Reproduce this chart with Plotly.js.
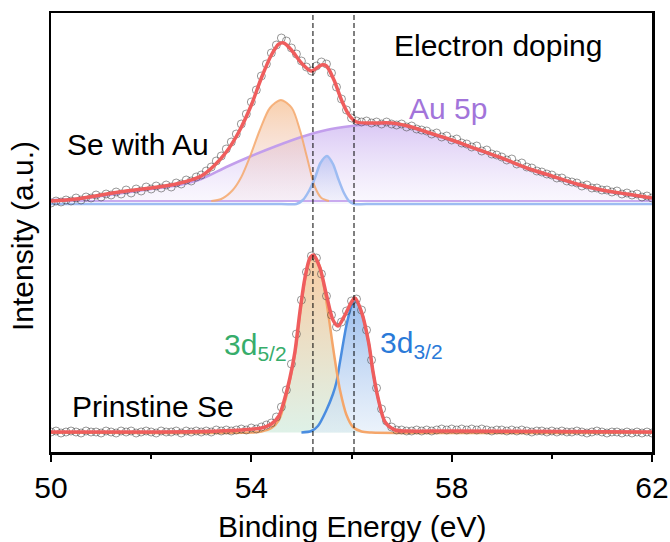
<!DOCTYPE html>
<html><head><meta charset="utf-8">
<script src="https://cdn.plot.ly/plotly-3.0.1.min.js"></script>
<style>html,body{margin:0;padding:0;background:#fff}#chart{width:670px;height:542px}</style>
</head><body><div id="chart"></div>
<script>
// ---------- DATA (binding energy in eV, intensity in arbitrary units) ----------
const energyRaw = [50.0,50.1,50.2,50.3,50.4,50.5,50.6,50.7,50.8,50.9,51.0,51.1,51.2,51.3,51.4,51.5,51.6,51.7,51.8,51.9,
52.0,52.1,52.2,52.3,52.4,52.5,52.6,52.7,52.8,52.9,53.0,53.1,53.2,53.3,53.4,53.5,53.6,53.7,53.8,53.9,
54.0,54.1,54.2,54.3,54.4,54.5,54.6,54.7,54.8,54.9,55.0,55.1,55.2,55.3,55.4,55.5,55.6,55.7,55.8,55.9,
56.0,56.1,56.2,56.3,56.4,56.5,56.6,56.7,56.8,56.9,57.0,57.1,57.2,57.3,57.4,57.5,57.6,57.7,57.8,57.9,
58.0,58.1,58.2,58.3,58.4,58.5,58.6,58.7,58.8,58.9,59.0,59.1,59.2,59.3,59.4,59.5,59.6,59.7,59.8,59.9,
60.0,60.1,60.2,60.3,60.4,60.5,60.6,60.7,60.8,60.9,61.0,61.1,61.2,61.3,61.4,61.5,61.6,61.7,61.8,61.9,62.0];

// Se with Au (raw points)
const auRaw = [249,251,250,252,251,254,252,255,254,257,255,258,257,260,258,262,259,263,261,265,
263,266,264,267,265,269,268,272,271,275,277,281,285,291,296,303,310,318,328,338,
350,362,376,388,399,407,414,411,404,398,391,385,381,386,390,388,379,365,353,342,
334,331,330,331,329,330,328,330,328,327,328,325,326,323,322,321,318,319,315,316,
312,313,309,308,305,306,301,302,298,297,295,292,293,288,289,285,284,281,280,278,
277,274,274,271,270,269,266,267,264,264,262,262,260,261,258,259,257,258,255,256,254];

// Pristine Se (raw points)
const seRaw = [20,21,19,20,21,20,19,21,20,20,19,21,20,19,21,20,21,19,20,21,
20,19,21,20,20,21,19,21,20,21,20,21,20,22,21,22,21,22,23,22,
24,23,25,27,29,35,45,62,88,118,152,180,196,194,178,156,137,125,130,141,
151,153,142,122,92,64,43,31,25,22,22,21,21,22,21,22,21,22,23,22,
23,22,23,22,23,22,23,22,21,22,22,21,22,21,22,21,20,21,21,20,
21,20,21,20,20,21,20,19,20,21,20,19,20,20,19,20,19,20,19,20,19];

// Se with Au: fitted envelope
const auFitE = [50,50.5,51,51.5,52,52.5,53,53.25,53.5,53.75,54,54.2,54.4,54.55,54.65,54.8,55,55.2,55.4,55.5,55.65,55.8,55.95,56.1,56.4,56.8,57.2,57.5,58,58.5,59,59.5,60,60.5,61,61.5,62];
const auFit  = [251,253,257,261,264,268,276,286,300,320,347,374,397,408,409,402,389,381,387,386,372,352,337,330,329,329,325,320,312,303,294,284,276,268,262,258,254];

// Au 5p component
const au5pE = [50,50.5,51,51.5,52,52.5,53,53.5,54,54.5,55,55.5,56,56.4,56.8,57.2,57.5,58,58.5,59,59.5,60,60.5,61,61.5,62];
const au5p  = [252,253,256,259.5,263,266.5,273,285,296,306,315,322,326,328,328,324.5,319.5,311.5,302.5,293.5,283.5,275.5,267.5,261.5,257.5,253.5];
const au5pBase = 251;

// Se 3d5/2 component (with Au)
const auD52E = [53.2,53.4,53.63,53.8,53.97,54.17,54.37,54.59,54.81,54.97,55.11,55.27,55.4,55.55];
const auD52  = [251,253,262,275,295,322,344,352,344,322,295,265,254,251];
const auD52Base = 251;

// Se 3d3/2 component (with Au)
const auD32E = [50,54.6,54.9,55.03,55.15,55.27,55.38,55.51,55.63,55.73,55.85,55.95,56.05,56.3,62];
const auD32  = [248,248,248,252,261,274,289,296,288,274,259,251,248,248,248];
const auD32Base = 248;

// Pristine Se: fitted envelope
const seFitE = [50,53,53.8,54.2,54.4,54.55,54.67,54.77,54.87,54.97,55.07,55.17,55.24,55.37,55.5,55.63,55.73,55.87,56.0,56.07,56.2,56.34,56.43,56.53,56.67,56.87,57.1,58,62];
const seFit  = [20,20.5,22,24,28,36,54,74,100,140,174,194,197,184,157,132,126,137,150,154,140,110,80,54,30,22,21,21,20];

// Pristine Se 3d5/2 component
const seD52E = [50,54.0,54.2,54.4,54.55,54.67,54.77,54.87,54.97,55.07,55.17,55.24,55.37,55.5,55.63,55.7,55.77,55.9,56.03,56.2,56.4,62];
const seD52  = [19.5,19.5,20.5,24,32,50,72,98,138,172,193,197,185,150,105,82,62,37,25,20.5,19.5,19.5];
const seD52Base = 19.5;

// Pristine Se 3d3/2 component
const seD32E = [55.0,55.2,55.33,55.5,55.63,55.7,55.77,55.9,56.0,56.07,56.2,56.34,56.43,56.53,56.67,56.87,57.1,57.4];
const seD32  = [19.5,21,26,42,58,70,90,127,146,153,140,110,80,54,30,22,20,19.5];
const seD32Base = 19.5;

const peakLines = [55.23, 56.05];
const xTicks = [50, 54, 58, 62];
const xMinorTicks = [52, 56, 60];

// ---------- helpers ----------
function base(xs, v){ return {x: xs, y: xs.map(()=>v), mode:'lines', line:{width:0}, hoverinfo:'skip', showlegend:false}; }
function fillTr(xs, ys, top, bottom){
  return {x: xs, y: ys, mode:'lines', line:{width:0, shape:'spline', smoothing:0.8}, fill:'tonexty',
    fillgradient:{type:'vertical', colorscale:[[0,bottom],[1,top]]}, hoverinfo:'skip', showlegend:false};
}
function lineTr(xs, ys, color, w){ return {x: xs, y: ys, mode:'lines', line:{color:color, width:w, shape:'spline', smoothing:0.8}, hoverinfo:'skip', showlegend:false}; }

const traces = [
  // top: fills
  base(au5pE, au5pBase),
  fillTr(au5pE, au5p, 'rgba(206,182,241,0.75)', 'rgba(244,239,252,0.5)'),
  base(auD52E, auD52Base),
  fillTr(auD52E, auD52, 'rgba(247,192,145,0.75)', 'rgba(236,214,226,0.25)'),
  base(auD32E, auD32Base),
  fillTr(auD32E, auD32, 'rgba(172,186,240,0.65)', 'rgba(222,226,246,0.25)'),
  // top: component lines
  lineTr(energyRaw, energyRaw.map(()=>au5pBase), '#c9aaee', 2),
  lineTr(au5pE, au5p, '#c29eec', 2.5),
  lineTr(auD52E, auD52, 'rgba(244,168,108,0.85)', 2),
  lineTr(auD32E, auD32, '#9dbcf2', 2.5),
  // bottom: fills
  base(seD52E, seD52Base),
  fillTr(seD52E, seD52, 'rgba(248,198,152,0.9)', 'rgba(214,238,226,0.8)'),
  base(seD32E, seD32Base),
  fillTr(seD32E, seD32, 'rgba(138,178,234,0.85)', 'rgba(222,234,248,0.6)'),
  // bottom: component lines
  lineTr(seD32E, seD32, '#4a8de0', 2.5),
  lineTr(seD52E, seD52, '#f5a66a', 2.5),
  // raw data
  {x: energyRaw, y: auRaw, mode:'markers', marker:{symbol:'circle-open', size:8, color:'rgba(70,70,70,0.8)', line:{width:0.7}}, hoverinfo:'skip', showlegend:false},
  {x: energyRaw, y: seRaw, mode:'markers', marker:{symbol:'circle-open', size:8, color:'rgba(70,70,70,0.8)', line:{width:0.7}}, hoverinfo:'skip', showlegend:false},
  // fits
  lineTr(auFitE, auFit, '#ef5d5d', 3.5),
  lineTr(seFitE, seFit, '#ef5d5d', 3.5)
];

const F = '"Liberation Sans", Arial, sans-serif';
const FS = 30;
const layout = {
  width: 670, height: 542,
  margin: {l:51, r:18, t:13, b:90},
  paper_bgcolor:'#fff', plot_bgcolor:'#fff',
  showlegend:false,
  font:{family:F, color:'#000', size:FS},
  xaxis:{range:[50,62], tickvals:xTicks, ticktext:xTicks.map(String), ticks:'outside', ticklen:7, tickwidth:2, tickcolor:'#000',
    showline:true, linewidth:2.5, linecolor:'#000', mirror:true, showgrid:false, zeroline:false,
    tickfont:{family:F, size:FS, color:'#000'},
    minor:{tickvals:xMinorTicks, ticks:'outside', ticklen:4, tickwidth:2, tickcolor:'#000', showgrid:false}},
  yaxis:{range:[0,439], showticklabels:false, ticks:'', showline:true, linewidth:2.5, linecolor:'#000', mirror:true, showgrid:false, zeroline:false},
  shapes: peakLines.map(v=>({type:'line', xref:'x', yref:'paper', x0:v, x1:v, y0:0, y1:1, layer:'above', line:{color:'#000', width:1, dash:'5px,3px'}})),
  annotations:[
    {text:'Binding Energy (eV)', xref:'paper', yref:'paper', x:0.5, y:-0.1686, xanchor:'center', yanchor:'middle', showarrow:false, font:{family:F, size:FS, color:'#000'}},
    {text:'Intensity (a.u.)', xref:'paper', yref:'paper', x:-0.0483, y:0.492, textangle:-90, xanchor:'center', yanchor:'middle', showarrow:false, font:{family:F, size:FS, color:'#000'}},
    {text:'Electron doping', x:58.92, y:407, xanchor:'center', yanchor:'middle', showarrow:false, font:{family:F, size:FS, color:'#000'}},
    {text:'Au 5p', x:57.92, y:344, xanchor:'center', yanchor:'middle', showarrow:false, font:{family:F, size:FS, color:'#a274da'}},
    {text:'Se with Au', x:51.74, y:308, xanchor:'center', yanchor:'middle', showarrow:false, font:{family:F, size:FS, color:'#000'}},
    {text:'Prinstine Se', x:52.03, y:46, xanchor:'center', yanchor:'middle', showarrow:false, font:{family:F, size:FS, color:'#000'}},
    {text:'3d<sub>5/2</sub>', x:53.41, y:106, xanchor:'left', yanchor:'middle', showarrow:false, font:{family:F, size:FS, color:'#37ad6b'}},
    {text:'3d<sub>3/2</sub>', x:56.53, y:108, xanchor:'left', yanchor:'middle', showarrow:false, font:{family:F, size:FS, color:'#2a7ad8'}}
  ]
};
Plotly.newPlot('chart', traces, layout, {staticPlot:true, displayModeBar:false});
</script></body></html>
